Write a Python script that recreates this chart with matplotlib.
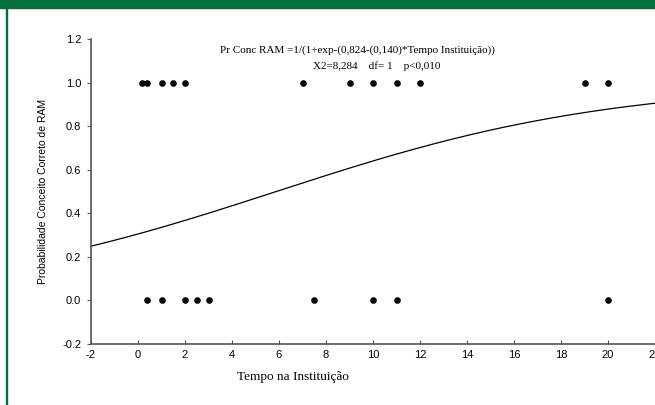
import numpy as np
import matplotlib
matplotlib.use('Agg')
from matplotlib import pyplot as plt
from matplotlib.patches import Rectangle

# observations: tempo na instituicao (anos) for each outcome
x_certo = [0.15, 0.4, 1, 1.5, 2, 7, 9, 10, 11, 12, 19, 20]
x_errado = [0.4, 1, 2, 2.5, 3, 7.5, 10, 11, 20]
# fitted logistic model
b0 = 0.824
b1 = 0.140
xticks = [-2, 0, 2, 4, 6, 8, 10, 12, 14, 16, 18, 20, 22]
yticks = [-0.2, 0.0, 0.2, 0.4, 0.6, 0.8, 1.0, 1.2]

fig = plt.figure(figsize=(6.55, 4.05), dpi=100)
green = '#00703c'
# frame like the original slide
fig.patches.append(Rectangle((0, 1 - 8/405), 1, 8/405, transform=fig.transFigure,
                             color=green, zorder=0))
fig.patches.append(Rectangle((6/655, 0), 1.2/655, 1 - 8/405, transform=fig.transFigure,
                             color=green, zorder=0))

ax = fig.add_axes([91/655, 61/405, 564/655, 305/405])
ax.set_xlim(-2, 22)
ax.set_ylim(-0.2, 1.2)

xs = np.linspace(-2, 22, 300)
ax.plot(xs, 1 / (1 + np.exp(-(-b0 + b1 * xs))), color='black', lw=0.9)
ax.scatter(x_certo, [1.0] * len(x_certo), s=14, color='black', zorder=3, clip_on=False)
ax.scatter(x_errado, [0.0] * len(x_errado), s=14, color='black', zorder=3, clip_on=False)

for s in ['top', 'right']:
    ax.spines[s].set_visible(False)
for s in ['left', 'bottom']:
    ax.spines[s].set_color('#555555')
    ax.spines[s].set_linewidth(1.2)

ax.set_xticks(xticks)
ax.set_xticklabels([str(t) for t in xticks], fontsize=8, family='Liberation Sans')
ax.set_yticks(yticks)
ax.set_yticklabels(['%.1f' % t for t in yticks], fontsize=8, family='Liberation Sans')
ax.tick_params(axis='x', direction='in', length=3, pad=4, color='#555555')
ax.tick_params(axis='y', direction='out', length=3, pad=4, color='#555555')

ax.set_ylabel('Probabilidade Conceito Correto de RAM', fontsize=7.5,
              family='Liberation Sans', labelpad=10)
fig.text(293/655, 1 - 377/405, 'Tempo na Instituição', fontsize=9.5,
         family='Liberation Serif', ha='center', va='center')

fig.text(357/655, 1 - 50/405, 'Pr Conc RAM =1/(1+exp-(0,824-(0,140)*Tempo Instituição))',
         fontsize=8, family='Liberation Serif', ha='center', va='center')
fig.text(377/655, 1 - 66/405, 'X2=8,284    df= 1    p<0,010',
         fontsize=8, family='Liberation Serif', ha='center', va='center')

fig.savefig('out.png', dpi=100)
